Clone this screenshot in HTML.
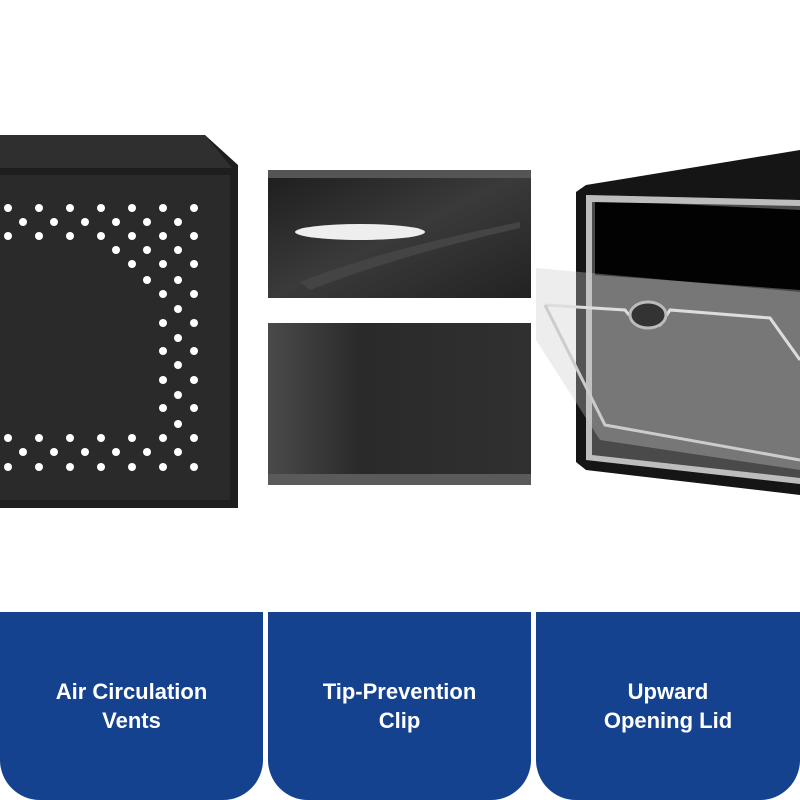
<!DOCTYPE html>
<html><head><style>
body{margin:0;width:800px;height:800px;background:#fff;position:relative;overflow:hidden;font-family:"Liberation Sans",sans-serif}
.tab{position:absolute;top:612px;height:188px;background:#15428f;border-radius:0 0 40px 40px;color:#fff;font-weight:bold;font-size:22px;line-height:29px;text-align:center;display:flex;align-items:center;justify-content:center}
</style></head><body>
<svg width="800" height="800" style="position:absolute;left:0;top:0">
<defs>
<linearGradient id="g1" x1="0" y1="0" x2="1" y2="1"><stop offset="0" stop-color="#1d1d1d"/><stop offset="0.5" stop-color="#3a3a3a"/><stop offset="1" stop-color="#222"/></linearGradient>
<linearGradient id="g2" x1="0" y1="0" x2="1" y2="0"><stop offset="0" stop-color="#4a4a4a"/><stop offset="0.35" stop-color="#2a2a2a"/><stop offset="1" stop-color="#303030"/></linearGradient>
</defs>
<!-- left box -->
<polygon points="0,135 205,135 238,165 238,508 0,508" fill="#1e1e1e"/>
<polygon points="0,135 205,135 232,168 0,168" fill="#2f2f2f"/>
<rect x="0" y="175" width="230" height="325" fill="#2a2a2a"/>
<g fill="#fff">
<g id="ra"><circle cx="8" r="4"/><circle cx="39" r="4"/><circle cx="70" r="4"/><circle cx="101" r="4"/><circle cx="132" r="4"/><circle cx="163" r="4"/><circle cx="194" r="4"/></g>
</g>
<g fill="#fff">
<circle cx="8" cy="208" r="4"/><circle cx="39" cy="208" r="4"/><circle cx="70" cy="208" r="4"/><circle cx="101" cy="208" r="4"/><circle cx="132" cy="208" r="4"/><circle cx="163" cy="208" r="4"/><circle cx="194" cy="208" r="4"/>
<circle cx="8" cy="236" r="4"/><circle cx="39" cy="236" r="4"/><circle cx="70" cy="236" r="4"/><circle cx="101" cy="236" r="4"/><circle cx="132" cy="236" r="4"/><circle cx="163" cy="236" r="4"/><circle cx="194" cy="236" r="4"/>
<circle cx="8" cy="438" r="4"/><circle cx="39" cy="438" r="4"/><circle cx="70" cy="438" r="4"/><circle cx="101" cy="438" r="4"/><circle cx="132" cy="438" r="4"/><circle cx="163" cy="438" r="4"/><circle cx="194" cy="438" r="4"/>
<circle cx="8" cy="467" r="4"/><circle cx="39" cy="467" r="4"/><circle cx="70" cy="467" r="4"/><circle cx="101" cy="467" r="4"/><circle cx="132" cy="467" r="4"/><circle cx="163" cy="467" r="4"/><circle cx="194" cy="467" r="4"/>
<circle cx="23" cy="222" r="4"/><circle cx="54" cy="222" r="4"/><circle cx="85" cy="222" r="4"/><circle cx="116" cy="222" r="4"/><circle cx="147" cy="222" r="4"/><circle cx="178" cy="222" r="4"/>
<circle cx="23" cy="452" r="4"/><circle cx="54" cy="452" r="4"/><circle cx="85" cy="452" r="4"/><circle cx="116" cy="452" r="4"/><circle cx="147" cy="452" r="4"/><circle cx="178" cy="452" r="4"/>
<circle cx="116" cy="250" r="4"/><circle cx="147" cy="250" r="4"/><circle cx="178" cy="250" r="4"/>
<circle cx="132" cy="264" r="4"/><circle cx="163" cy="264" r="4"/><circle cx="194" cy="264" r="4"/>
<circle cx="147" cy="280" r="4"/><circle cx="178" cy="280" r="4"/>
<circle cx="163" cy="294" r="4"/><circle cx="194" cy="294" r="4"/>
<circle cx="178" cy="309" r="4"/>
<circle cx="163" cy="323" r="4"/><circle cx="194" cy="323" r="4"/>
<circle cx="178" cy="338" r="4"/>
<circle cx="163" cy="351" r="4"/><circle cx="194" cy="351" r="4"/>
<circle cx="178" cy="365" r="4"/>
<circle cx="163" cy="380" r="4"/><circle cx="194" cy="380" r="4"/>
<circle cx="178" cy="395" r="4"/>
<circle cx="163" cy="408" r="4"/><circle cx="194" cy="408" r="4"/>
<circle cx="178" cy="424" r="4"/>
</g>
<!-- middle panels -->
<rect x="268" y="170" width="263" height="128" fill="url(#g1)"/>
<rect x="268" y="170" width="263" height="8" fill="#555"/>
<ellipse cx="360" cy="232" rx="65" ry="8" fill="#eee"/>
<path d="M300,282 Q380,250 520,222 L520,228 Q400,255 310,290 Z" fill="#444"/>
<rect x="268" y="323" width="263" height="162" fill="url(#g2)"/>
<rect x="268" y="474" width="263" height="11" fill="#5a5a5a"/>
<!-- right box -->
<polygon points="586,185 800,150 800,495 586,470 576,462 576,192" fill="#151515"/>
<polygon points="586,195 800,200 800,480 586,460" fill="#4a4a4a"/>
<polygon points="595,200 800,210 800,290 595,275" fill="#020202"/>
<polygon points="586,195 800,200 800,206 592,202 592,455 800,478 800,484 586,460" fill="#bdbdbd"/>
<polygon points="536,268 800,292 800,470 600,440 536,340" fill="#ccc" opacity="0.35"/>
<path d="M545,305 L625,310 Q640,330 660,325 L670,310 L770,318 L800,360" fill="none" stroke="#ddd" stroke-width="3"/>
<path d="M545,305 L605,425 L800,460" fill="none" stroke="#ccc" stroke-width="3"/>
<ellipse cx="648" cy="315" rx="18" ry="13" fill="#333" stroke="#bbb" stroke-width="3"/>
</svg>
<div class="tab" style="left:0;width:263px">Air Circulation<br>Vents</div>
<div class="tab" style="left:268px;width:263px">Tip-Prevention<br>Clip</div>
<div class="tab" style="left:536px;width:264px">Upward<br>Opening Lid</div>
</body></html>
